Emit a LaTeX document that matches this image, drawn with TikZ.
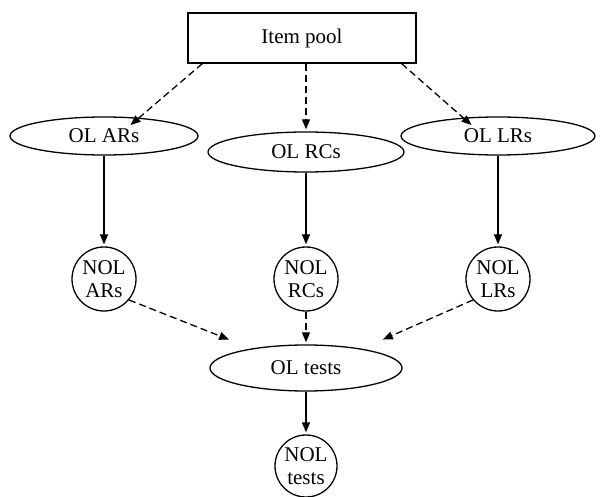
\documentclass[tikz,border=0pt]{standalone}
\usepackage{fontspec}
\setmainfont{Liberation Serif}
\usetikzlibrary{shapes.geometric, arrows.meta, positioning}

\begin{document}
\begin{tikzpicture}[x=1pt, y=-1pt,
    every node/.style={font=\fontsize{21}{23}\selectfont},
    poolbox/.style={draw, line width=1.3pt, minimum width=228pt, minimum height=50pt},
    olnode/.style={draw, ellipse, line width=1.3pt, minimum width=188pt, minimum height=38pt},
    nolnode/.style={draw, circle, line width=1.3pt, minimum size=64pt, inner sep=0pt, align=center},
    solidarrow/.style={-{Triangle[length=10pt, width=8pt]}, line width=1.3pt, shorten >=2pt},
    dasharrow/.style={-{Triangle[length=10pt, width=8pt]}, line width=1.3pt, dash pattern=on 7pt off 4pt, shorten >=2pt}]
  \useasboundingbox (0,0) rectangle (603,497);

  % Item pool
  \node[poolbox] (pool) at (302,38) {Item pool};

  % Online versions
  \node[olnode] (olar) at (104,136) {OL ARs};
  \node[olnode, minimum width=196pt, minimum height=40pt] (olrc) at (306,152) {OL RCs};
  \node[olnode, minimum width=194pt] (ollr) at (498,136) {OL LRs};

  % Non-online versions
  \node[nolnode] (nolar) at (104,279) {NOL\\ARs};
  \node[nolnode] (nolrc) at (306,279) {NOL\\RCs};
  \node[nolnode] (nollr) at (498,279) {NOL\\LRs};

  % Tests
  \node[olnode, minimum width=192pt, minimum height=46pt] (oltest) at (306,368) {OL tests};
  \node[nolnode, minimum size=62pt] (noltest) at (306,466) {NOL\\tests};

  % Pool to online versions
  \draw[dasharrow] ([xshift=15pt]pool.south west) -- ([xshift=25pt, yshift=-10pt]olar.north);
  \draw[dasharrow] (pool.south -| olrc) -- (olrc.north);
  \draw[dasharrow] ([xshift=-15pt]pool.south east) -- ([xshift=-25pt, yshift=-10pt]ollr.north);

  % Online to non-online
  \draw[solidarrow] (olar) -- (nolar);
  \draw[solidarrow] (olrc) -- (nolrc);
  \draw[solidarrow] (ollr) -- (nollr);

  % Into tests
  \draw[dasharrow] (nolar.-40) -- ([xshift=-75pt, yshift=4pt]oltest.north);
  \draw[dasharrow] (nolrc) -- (oltest);
  \draw[dasharrow] (nollr.-140) -- ([xshift=75pt, yshift=4pt]oltest.north);
  \draw[solidarrow] (oltest) -- (noltest);
\end{tikzpicture}
\end{document}
